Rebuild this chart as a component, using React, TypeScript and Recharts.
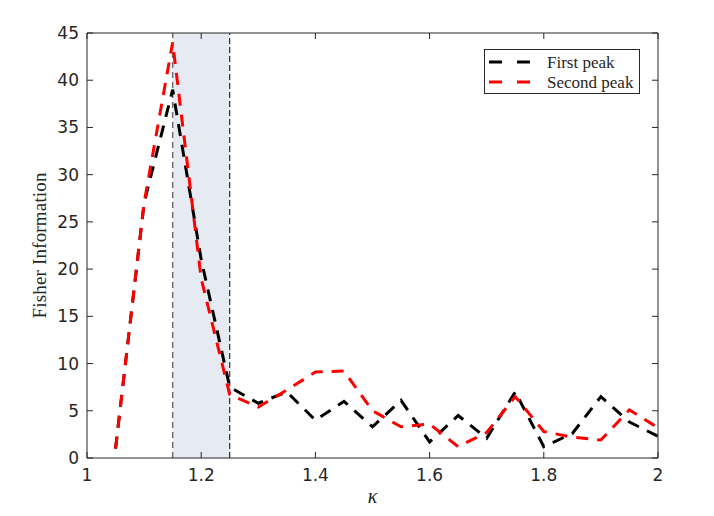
import React from 'react';
import { LineChart, Line, XAxis, YAxis, ReferenceArea, ReferenceLine, Legend, Label } from 'recharts';

const kappa = [1.05, 1.1, 1.15, 1.2, 1.25, 1.3, 1.35, 1.4, 1.45, 1.5, 1.55, 1.6, 1.65, 1.7, 1.75, 1.8, 1.85, 1.9, 1.95, 2.0];
const firstPeak = [1.0, 27.0, 39.0, 21.0, 7.5, 5.8, 7.0, 4.0, 6.0, 3.3, 6.1, 1.7, 4.5, 2.1, 7.0, 1.2, 2.6, 6.5, 3.8, 2.3];
const secondPeak = [1.0, 27.0, 44.0, 19.0, 6.7, 5.4, 7.2, 9.1, 9.2, 5.0, 3.3, 3.6, 1.2, 2.7, 6.5, 2.8, 2.2, 1.9, 5.1, 3.2];
const xTicks = [1, 1.2, 1.4, 1.6, 1.8, 2];
const yTicks = [0, 5, 10, 15, 20, 25, 30, 35, 40, 45];
const shadeStart = 1.15;
const shadeEnd = 1.25;

const data = kappa.map((k, i) => ({ k, first: firstPeak[i], second: secondPeak[i] }));

const AXIS = '#262626';
const TICK_FONT = 'DejaVu Sans';
const SERIF = '"Liberation Serif", "Times New Roman", serif';

const BottomTick = (props: any) => {
  const { x, y, payload } = props;
  return (
    <g>
      <line x1={x} x2={x} y1={y} y2={y - 6} stroke={AXIS} strokeWidth={1} />
      <text x={x} y={y + 23} textAnchor="middle" fill={AXIS} fontSize={17} fontFamily={TICK_FONT}>
        {String(payload.value)}
      </text>
    </g>
  );
};

const TopTick = (props: any) => {
  const { x, y } = props;
  return <line x1={x} x2={x} y1={y} y2={y + 6} stroke={AXIS} strokeWidth={1} />;
};

const LeftTick = (props: any) => {
  const { x, y, payload } = props;
  return (
    <g>
      <line x1={x} x2={x + 6} y1={y} y2={y} stroke={AXIS} strokeWidth={1} />
      <text x={x - 8} y={y + 6} textAnchor="end" fill={AXIS} fontSize={17} fontFamily={TICK_FONT}>
        {String(payload.value)}
      </text>
    </g>
  );
};

const RightTick = (props: any) => {
  const { x, y } = props;
  return <line x1={x} x2={x - 6} y1={y} y2={y} stroke={AXIS} strokeWidth={1} />;
};

const LegendBox = (props: any) => {
  const items = (props.payload || []).filter((it: any) => it.type !== 'none');
  return (
    <svg width={157} height={46} style={{ display: 'block' }}>
      <rect x={0.5} y={0.5} width={155} height={44} fill="#fff" stroke={AXIS} strokeWidth={1} />
      {items.map((it: any, i: number) => (
        <g key={i}>
          <line x1={5} x2={46} y1={13 + 20 * i} y2={13 + 20 * i} stroke={it.color} strokeWidth={3} strokeDasharray="13 15" />
          <text x={63} y={18.5 + 20 * i} fontSize={17} fontFamily={SERIF} fill={AXIS}>
            {it.value}
          </text>
        </g>
      ))}
    </svg>
  );
};

export default function App() {
  return (
    <div style={{ position: 'absolute', left: 0, top: 0, background: '#fff' }}>
      <LineChart width={714} height={516} data={data} margin={{ top: 32, right: 55, bottom: 0, left: 0 }}>
        <ReferenceArea x1={shadeStart} x2={shadeEnd} fill="#e6ebf3" fillOpacity={1} stroke="none" ifOverflow="hidden" />
        <ReferenceLine x={shadeStart} stroke="#6e6e6e" strokeWidth={1.5} strokeDasharray="6 4" />
        <ReferenceLine x={shadeEnd} stroke="#000" strokeWidth={1} strokeDasharray="6 3" />
        <XAxis
          dataKey="k"
          type="number"
          domain={[1, 2]}
          allowDataOverflow
          ticks={xTicks}
          height={58}
          tickSize={0}
          tickMargin={0}
          tickLine={false}
          axisLine={{ stroke: AXIS, strokeWidth: 1 }}
          tick={<BottomTick />}
          interval={0}
        >
          <Label
            content={(p: any) => {
              const vb = p.viewBox || {};
              return (
                <text x={vb.x + vb.width / 2} y={vb.y + 45} textAnchor="middle" fontSize={20} fontStyle="italic" fontFamily={SERIF} fill={AXIS}>
                  κ
                </text>
              );
            }}
          />
        </XAxis>
        <XAxis
          xAxisId="top"
          dataKey="k"
          orientation="top"
          type="number"
          domain={[1, 2]}
          allowDataOverflow
          ticks={xTicks}
          height={1}
          tickSize={0}
          tickMargin={0}
          tickLine={false}
          tick={<TopTick />}
          axisLine={{ stroke: AXIS, strokeWidth: 1 }}
          interval={0}
        />
        <YAxis
          type="number"
          domain={[0, 45]}
          allowDataOverflow
          ticks={yTicks}
          width={87}
          tickSize={0}
          tickMargin={0}
          tickLine={false}
          axisLine={{ stroke: AXIS, strokeWidth: 1 }}
          tick={<LeftTick />}
          interval={0}
        >
          <Label
            content={(p: any) => {
              const vb = p.viewBox || {};
              const cy = vb.y + vb.height / 2;
              return (
                <text
                  x={46}
                  y={cy}
                  transform={`rotate(-90, 46, ${cy})`}
                  textAnchor="middle"
                  fontSize={19}
                  fontFamily={SERIF}
                  fill={AXIS}
                  textLength={146}
                  lengthAdjust="spacing"
                >
                  Fisher Information
                </text>
              );
            }}
          />
        </YAxis>
        <YAxis
          yAxisId="right"
          orientation="right"
          type="number"
          domain={[0, 45]}
          allowDataOverflow
          ticks={yTicks}
          width={1}
          tickSize={0}
          tickMargin={0}
          tickLine={false}
          tick={<RightTick />}
          axisLine={{ stroke: AXIS, strokeWidth: 1 }}
          interval={0}
        />
        <Legend
          layout="horizontal"
          verticalAlign="middle"
          align="center"
          content={<LegendBox />}
          wrapperStyle={{ left: 484, top: 49, width: 157, height: 46 }}
        />
        <Line
          xAxisId="top"
          yAxisId="right"
          type="linear"
          dataKey="first"
          stroke="none"
          legendType="none"
          dot={false}
          activeDot={false}
          isAnimationActive={false}
        />
        <Line
          type="linear"
          dataKey="first"
          name="First peak"
          stroke="#000000"
          strokeWidth={3}
          strokeDasharray="12 9"
          dot={false}
          activeDot={false}
          isAnimationActive={false}
        />
        <Line
          type="linear"
          dataKey="second"
          name="Second peak"
          stroke="#ff0000"
          strokeWidth={3}
          strokeDasharray="12 9"
          dot={false}
          activeDot={false}
          isAnimationActive={false}
        />
      </LineChart>
    </div>
  );
}
